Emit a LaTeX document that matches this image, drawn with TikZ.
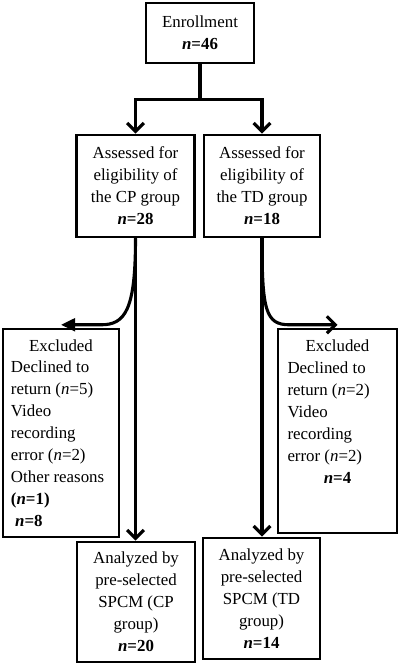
\documentclass[tikz,border=0pt]{standalone}
\usepackage{fontspec}
\setmainfont{Liberation Serif}
\usepackage{tikz}
\usetikzlibrary{arrows.meta, positioning}

\begin{document}
\begin{tikzpicture}[
      every node/.style={font=\fontsize{12}{15.6}\selectfont},
      bx/.style={draw, line width=2pt, align=center, inner sep=2pt,
                 minimum width=2.95cm, minimum height=2.55cm},
      exbx/.style={draw, line width=2pt, inner xsep=0.2cm, inner ysep=1pt},
      ar/.style={-{Straight Barb[length=6pt,width=12pt]}, line width=2.2pt},
      arf/.style={-{Triangle[length=10pt,width=9pt]}, line width=2.2pt}
    ]
      \useasboundingbox (0,0) rectangle (10,-16.675);

      % top: enrollment and the two groups
      \node[bx, minimum width=2.7cm, minimum height=1.5cm] (enr) at (5,-0.825)
        {Enrollment\\ \textbf{\textit{n}=46}};
      \node[bx] (cp) at (3.3875,-4.65)
        {Assessed for\\ eligibility of\\ the CP group\\ \textbf{\textit{n}=28}};
      \node[bx, minimum width=2.9cm] (td) at (6.55,-4.65)
        {Assessed for\\ eligibility of\\ the TD group\\ \textbf{\textit{n}=18}};
      \draw[line width=2.2pt] (enr.south) -- ++(0,-0.875) coordinate (fork);
      \draw[ar] (fork) -| (cp.north);
      \draw[ar] (fork) -| (td.north);

      % excluded
      \node[exbx, minimum width=2.9cm, minimum height=5.2cm] (excp) at (1.525,-10.825)
        {\parbox{2.5cm}{{\centering Excluded\par}\raggedright
          Declined to\\ return (\textit{n}=5)\\ Video\\ recording\\ error (\textit{n}=2)\\
          Other reasons\\ \textbf{(\textit{n}=1)}\\ \hspace*{3pt}\textbf{\textit{n}=8}}};
      \node[exbx, minimum width=2.975cm, minimum height=5.1cm] (extd) at (8.4375,-10.775)
        {\parbox[c][4.95cm][t]{2.5cm}{\vspace*{5.5pt}{\centering Excluded\par}\raggedright
          Declined to\\ return (\textit{n}=2)\\ Video\\ recording\\ error (\textit{n}=2)\par
          {\centering\textbf{\textit{n}=4}\par}}};
      \draw[arf] (cp.south) .. controls +(0,-1.8) and +(0.6,0) ..
        ([xshift=1cm,yshift=2pt]excp.north) -- ([yshift=2pt]excp.north);
      \draw[ar] (td.south) .. controls +(0,-1.8) and +(-0.6,0) ..
        ([xshift=-1.2cm,yshift=2pt]extd.north) -- ([yshift=2pt]extd.north);

      % bottom: analyzed
      \node[bx, minimum height=3cm] (ancp) at (3.4,-15.05)
        {Analyzed by\\ pre-selected\\ SPCM (CP\\ group)\\ \textbf{\textit{n}=20}};
      \node[bx, minimum width=2.925cm, minimum height=3.025cm] (antd) at (6.5375,-14.9625)
        {Analyzed by\\ pre-selected\\ SPCM (TD\\ group)\\ \textbf{\textit{n}=14}};
      \draw[ar] (cp.south) -- (cp.south |- ancp.north);
      \draw[ar] (td.south) -- (td.south |- antd.north);
    \end{tikzpicture}
\end{document}
